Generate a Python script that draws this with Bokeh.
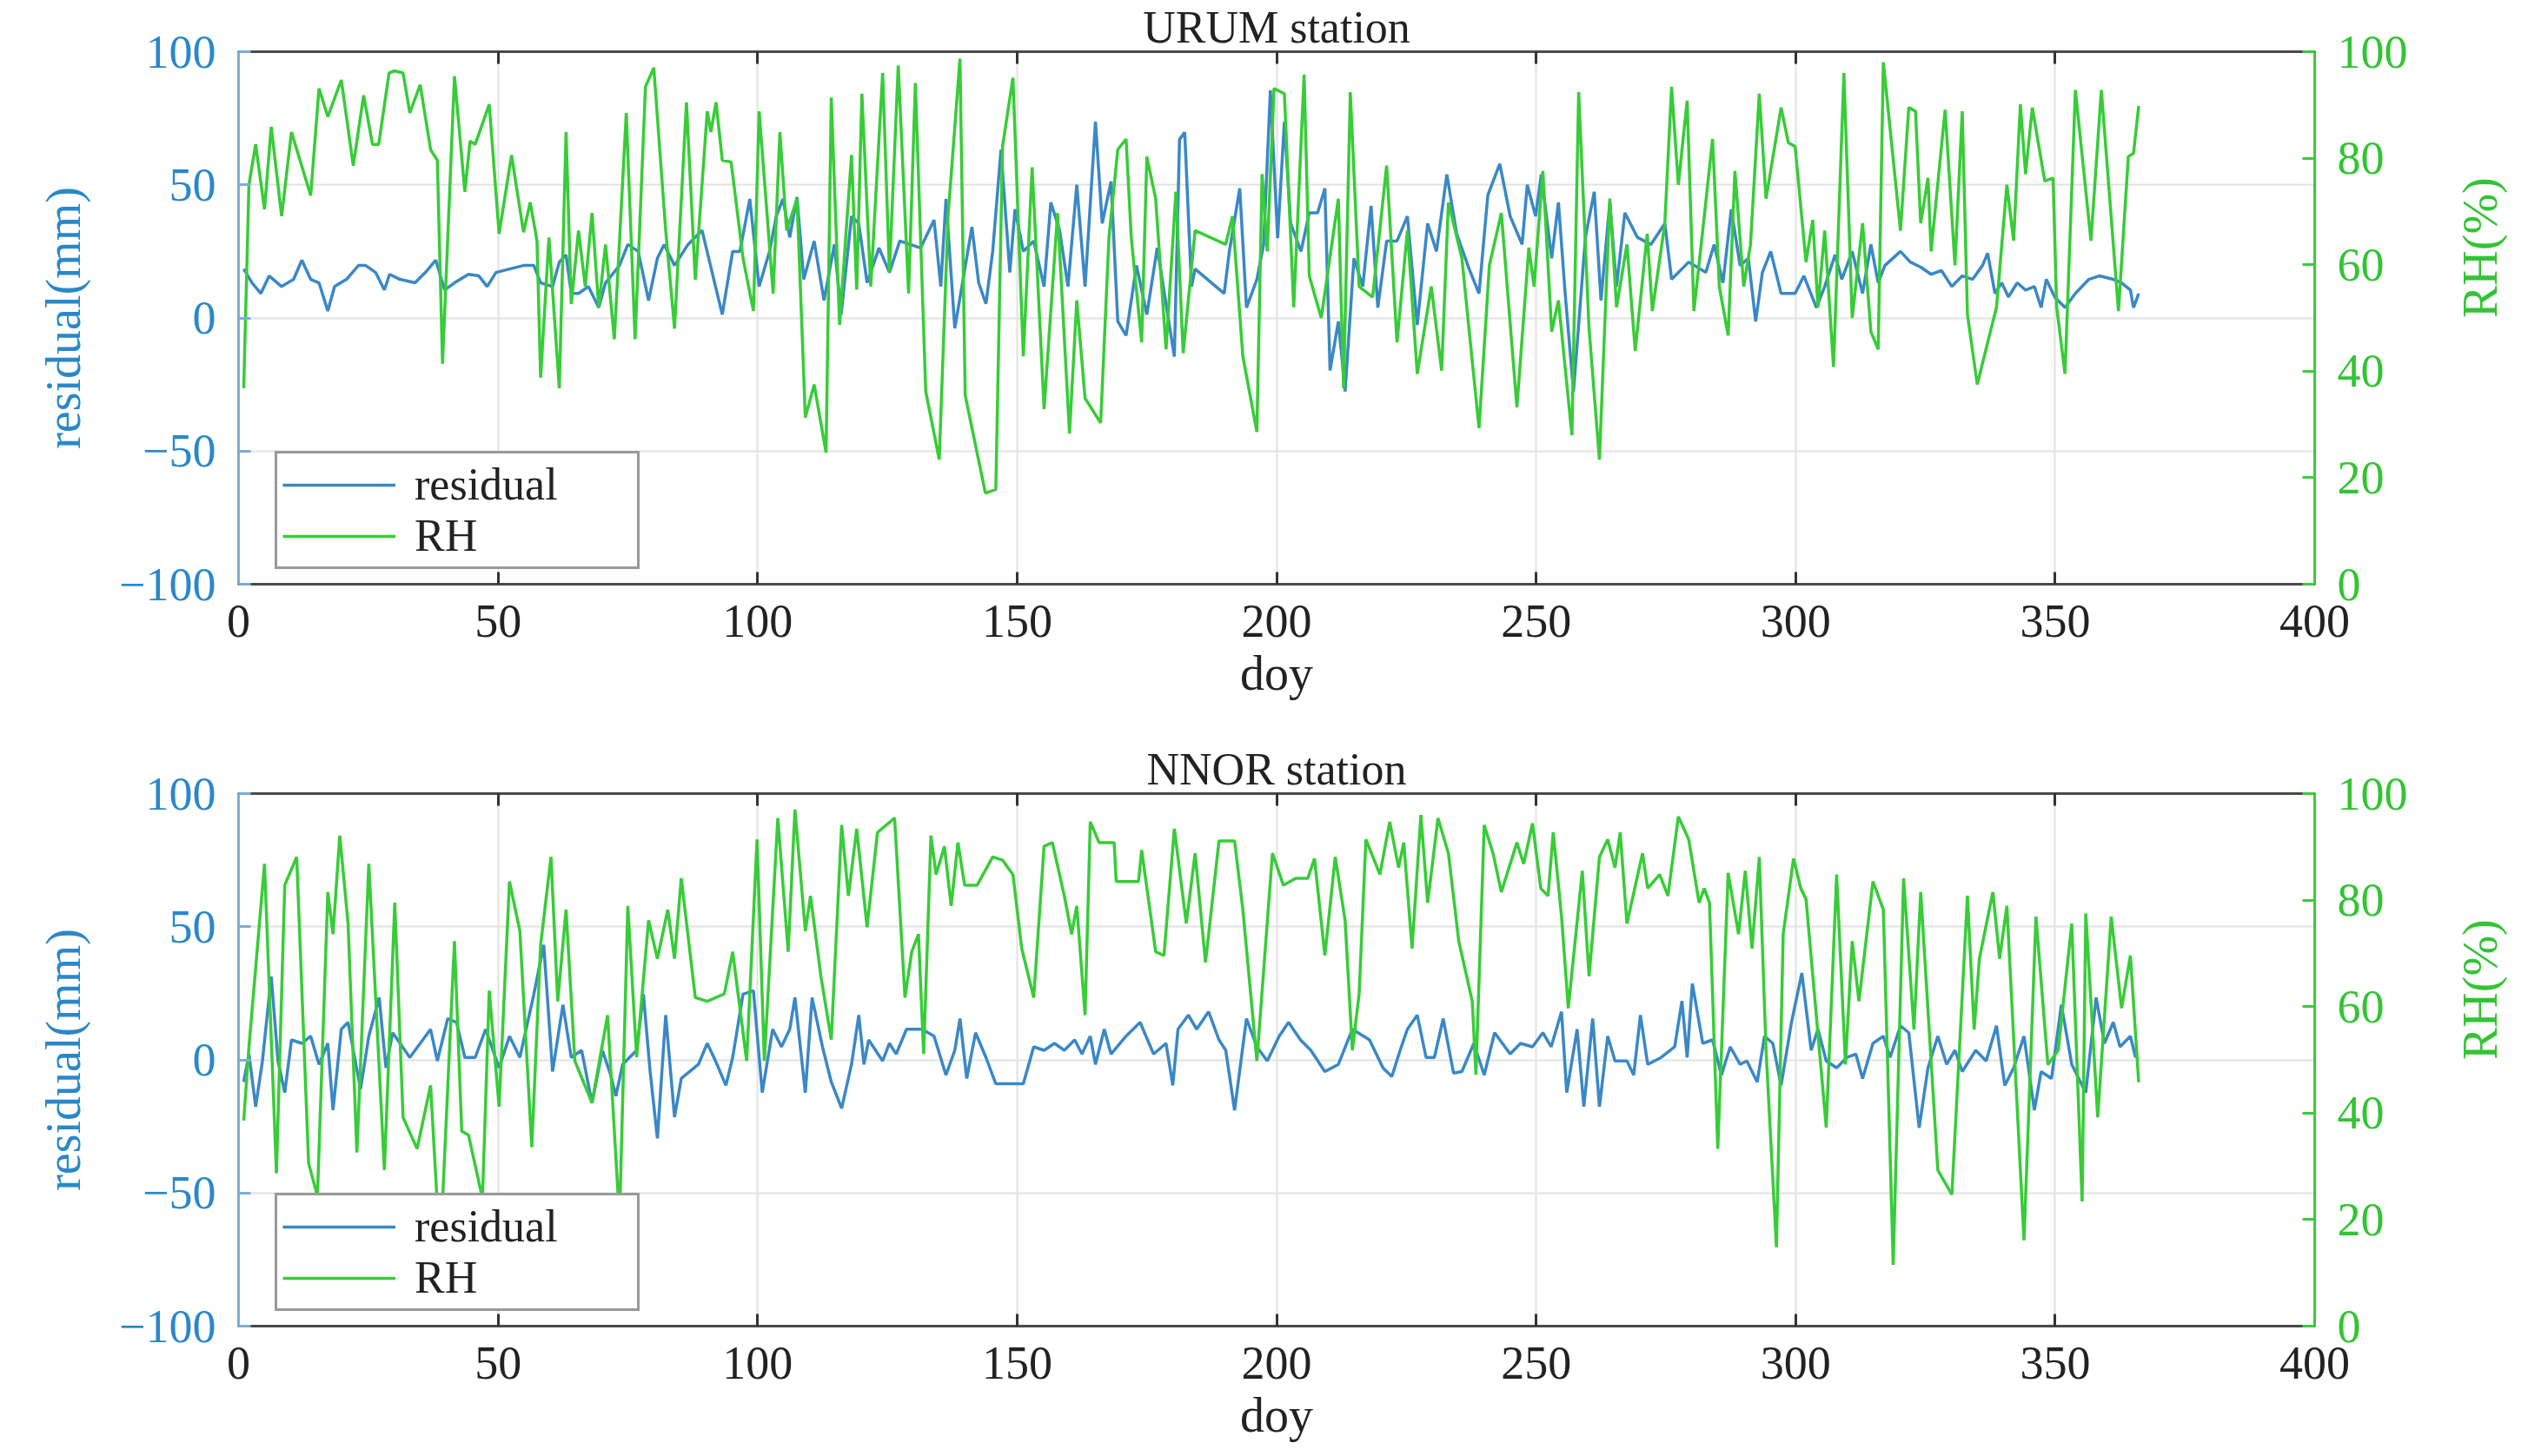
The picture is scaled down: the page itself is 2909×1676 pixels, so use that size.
import math
from bokeh.plotting import figure
from bokeh.models import Range1d, LinearAxis, Legend, LegendItem, FixedTicker
from bokeh.layouts import column
from bokeh.embed import file_html
from bokeh.resources import INLINE

# ---------------- data (doy, value) ----------------
X_TICKS = [0, 50, 100, 150, 200, 250, 300, 350, 400]
RES_TICKS = [-100, -50, 0, 50, 100]
RH_TICKS = [0, 20, 40, 60, 80, 100]

URUM_RESIDUAL = [(1,18.4),(2.6,13.2),(4.3,9.2),(5.9,15.8),(8.3,11.8),(10.6,14.5),(12.2,21.7),(13.9,14.5),(15.5,13.2),(17.2,2.6),(18.5,11.8),(20.8,14.5),(23.1,19.7),(24.5,19.7),(26.4,17.1),(28.1,10.5),(29.1,16.4),(31.1,14.5),(34,13.2),(36,17.1),(38,21.7),(39.7,10.5),(41.6,13.2),(44.3,16.4),(46.3,15.8),(47.9,11.8),(49.6,17.1),(52.2,18.4),(54.9,19.7),(56.9,19.7),(58.2,13.2),(60.5,11.8),(61.8,21),(63.1,23.7),(64.1,9.2),(65.5,9.2),(67.4,11.8),(69.4,3.9),(70.7,13.2),(73.4,19.7),(75,27.6),(77,25),(79,6.6),(80.7,22.4),(82,27.6),(84,19.7),(86.6,27.6),(89.3,32.9),(91.9,11.8),(93.2,1.3),(95.2,25),(96.6,25),(98.5,44.7),(100.3,11.8),(102.3,25),(103.6,38.2),(104.9,44.7),(106.2,30.3),(107.6,45.4),(108.9,14.5),(110.9,28.9),(112.8,6.6),(114.8,27.6),(116.1,1.3),(118.1,38.2),(119.5,35.5),(121.1,13.2),(123.4,26.3),(125.4,17.1),(127.4,28.9),(129.4,27.6),(131.4,26.3),(134,36.8),(135.3,11.8),(136.3,44.7),(138,-3.9),(141.3,34.2),(142.6,13.2),(144,5.3),(145.3,25),(146.9,63.2),(148.6,17.1),(149.6,40.8),(151.2,25),(153.2,28.9),(155.2,11.8),(156.5,43.4),(158.2,32.9),(159.8,11.8),(161.5,50),(163.1,11.8),(165.1,73.7),(166.4,35.5),(168.1,51.3),(169.4,-1.3),(171,-6.6),(173,19.7),(175,1.3),(177,26.3),(178.7,5.3),(180.3,-14.5),(181.3,67.1),(182.3,69.7),(183.6,11.8),(184.3,18.4),(189.9,9.2),(190.9,25),(192.9,48.7),(194.2,3.9),(196.2,14.5),(197.5,27.6),(198.8,85.5),(200.2,30),(201.5,73.7),(202.7,35.5),(204.7,25),(206.3,39.5),(207.9,39.5),(209.3,48.7),(210.3,-19.7),(211.9,-1.3),(213.2,-27.6),(214.9,22.4),(216.6,11.8),(218.2,42.1),(219.5,3.9),(221.2,28.9),(223.2,28.9),(225.2,38.2),(227.1,-2.6),(229.1,35.5),(230.8,25),(232.8,53.9),(234.7,31.6),(237.1,18.4),(239,9.2),(240.7,46.1),(243,57.9),(245,38.2),(247.3,27.6),(248.3,50),(249.9,38.2),(251,53.9),(253,22.4),(254.3,43.4),(255.6,9.2),(257.2,-27.6),(259.5,30.3),(261.2,47.4),(262.5,6.6),(264.2,43.4),(265.5,11.8),(267.1,39.5),(269.5,30.3),(272.1,27.6),(274.8,35.5),(276.1,14.5),(279.4,21),(282.7,17.1),(284.3,27.6),(286,13.2),(287.6,40.8),(289.3,19.7),(290.9,22.4),(292.3,-1.3),(293.6,17.1),(295.2,25),(297.2,9.2),(299.9,9.2),(301.6,15.8),(304,3.9),(305.6,11.8),(307.6,23.7),(308.9,14.5),(310.9,25),(312.9,9.2),(314.5,27.6),(315.9,13.2),(317.2,19.7),(320.2,25),(322.1,21),(324.1,19.1),(326.1,16.4),(328.1,17.8),(330.1,11.8),(332.1,15.8),(334.1,14.5),(336,19.7),(337,24.3),(338.4,9.2),(339.7,13.2),(341,7.9),(342.7,13.2),(344.3,10.5),(346,11.8),(347.3,3.9),(348.3,14.5),(349.9,7.9),(351.9,3.9),(353.9,9.2),(356.5,14.5),(358.5,15.8),(361.2,14.5),(362.8,13.2),(364.5,10.5),(365.1,3.9),(366.1,9.2)]

URUM_RH = [(1,36.8),(2,75),(3.3,82.6),(5,70.4),(6.3,85.9),(8.3,69.1),(10.2,84.9),(13.9,73),(15.5,93.1),(17.2,87.8),(19.8,94.7),(22.1,78.6),(24.1,91.8),(25.8,82.6),(27,82.6),(29,96),(30,96.4),(31.7,96),(33,88.5),(35,93.8),(37,81.6),(38.3,79.6),(39.3,41.4),(41.6,95.4),(43.6,73.7),(44.6,83.2),(45.6,82.6),(48.3,90.1),(50.2,65.8),(52.6,80.6),(54.9,66.1),(56.2,71.7),(57.5,64.5),(58.2,38.8),(59.8,65.1),(61.8,36.8),(63.1,84.9),(64.1,52.6),(65.5,66.4),(66.8,55.9),(68.1,69.7),(69.4,52),(70.7,63.8),(72.4,46),(74.7,88.5),(76.4,46),(78.4,93.4),(80,97),(82.3,66.4),(84,48),(86.3,90.5),(88,57.2),(90.3,88.8),(91,84.9),(92,90.5),(93.2,79.6),(94.9,79.3),(97.2,61.2),(99.2,51.3),(100.3,88.8),(103,54.6),(104.3,84.9),(105.6,66.4),(107.6,72.4),(109.2,31.3),(110.9,37.5),(113.2,24.7),(114.2,91.4),(115.8,48.7),(118.1,80.6),(119.1,55.3),(120.1,92.1),(121.8,55.9),(124.1,96),(125.4,58.6),(127.1,97.4),(129.1,54.6),(130.4,94.1),(132.4,36.2),(135,23.4),(136.7,69.1),(139,98.7),(140,35.5),(143.9,17.1),(145.9,17.8),(147.2,82.2),(149.2,95.1),(151.2,42.8),(152.9,78.3),(155.2,32.9),(157.8,69.7),(160.1,28.3),(161.5,53.3),(163.1,34.9),(166.1,30.3),(167.7,65.1),(169.4,81.6),(171,83.6),(172,65.1),(174,45.4),(175,80.3),(176.7,72.4),(178.7,44.1),(180.6,73.7),(182,43.4),(184.3,66.4),(190.2,63.8),(191.5,69.1),(193.5,42.8),(196.2,28.6),(197.2,77),(198.2,62.5),(199.5,93.1),(201.5,92.1),(203.3,52),(205.3,95.7),(206.3,57.9),(208.6,50),(211.9,72.4),(212.9,36.8),(214.2,92.4),(215.9,55.9),(218.5,53.9),(221.2,78.6),(223.2,45.4),(225.2,66.4),(227.1,39.5),(229.8,55.9),(231.8,40.1),(233.1,71.7),(235.7,61.2),(239,29.3),(241,59.9),(243.3,69.7),(246.3,33.2),(248.6,63.2),(249.6,55.9),(251.3,77.6),(253,47.4),(254.3,53.3),(256.9,28),(258.2,92.4),(260.2,48),(262.2,23.4),(264.2,72.4),(265.5,52),(267.5,63.8),(269.1,43.8),(271.4,65.8),(272.4,51.3),(274.8,67.8),(276.1,93.4),(277.4,75),(279.1,90.8),(280.4,51.3),(282.4,69.1),(284,83.6),(285.3,55.9),(287,46.7),(288.3,77.6),(290,55.9),(291.3,63.8),(293,92.1),(294.3,72.4),(297.2,89.5),(298.6,82.9),(299.9,82.2),(302,60.5),(303.3,68.4),(304.3,52),(305.6,66.4),(307.3,40.8),(309.3,96),(310.9,50),(312.9,67.8),(314.5,47.4),(315.9,44.1),(316.9,98),(320.2,66.4),(321.8,89.5),(323.1,88.8),(324.1,67.8),(325.5,76.3),(326.1,62.5),(328.8,89.1),(330.7,59.9),(332.1,88.8),(333.1,50.7),(335,37.5),(337,45.4),(338.7,52),(340.7,75),(342,64.5),(343.3,90.1),(344.3,77),(345.6,89.5),(348,75.7),(349.6,76.3),(350.3,52),(351.9,39.5),(353.9,92.8),(356.9,64.5),(358.9,92.8),(362.2,51.3),(364.1,80.3),(365.1,80.9),(366.1,89.8)]

NNOR_RESIDUAL = [(1,-8.3),(2,2.2),(3.3,-17.6),(4.6,-0.4),(6.3,31.3),(7.6,-0.4),(8.9,-12.3),(10.2,7.5),(12.2,6.2),(13.9,8.9),(15.5,-1.7),(17.2,6.2),(18.2,-18.9),(19.8,11.5),(21.1,14.1),(23.5,-11),(25.1,8.9),(27.1,23.4),(28.4,-3),(29.7,10.2),(33,0.9),(37,11.5),(38.3,-0.4),(40.3,15.5),(42,14.1),(43.6,0.9),(45.6,0.9),(47.6,11.5),(50.2,-3),(52.2,8.9),(54.2,0.9),(56.9,24.7),(58.8,43.2),(60.5,-4.4),(62.5,20.7),(64.1,0.9),(66.1,3.6),(68.1,-16.2),(70.1,3.6),(71.7,-5.7),(72.7,-13.6),(74,-1.7),(76.7,3.6),(78,24.7),(79.3,-4.4),(80.7,-29.5),(82.3,16.8),(84,-21.5),(85.3,-7),(88.6,-1.7),(90.3,6.2),(91.9,-0.4),(93.9,-9.6),(95.2,0.9),(97.2,24.7),(99.2,26),(100.9,-12.3),(102.9,11.5),(104.6,4.9),(106.2,11.5),(107.2,23.4),(109.2,-12.3),(110.5,23.4),(112.5,4.9),(114.2,-8.3),(116.2,-18.2),(118.1,-1.7),(119.5,16.8),(120.5,-1.7),(121.4,7.5),(124.1,-0.4),(125.4,6.2),(126.7,2.2),(128.7,11.5),(131.7,11.5),(134,8.9),(136.3,-5.7),(138,3.6),(139,15.5),(140.3,-7),(142,10.2),(144,0.9),(145.9,-9),(151.2,-9),(153.2,4.9),(155.2,3.6),(157.2,6.2),(159.1,3.6),(161.1,7.5),(162.5,2.2),(164.1,8.9),(165.1,-1.7),(166.8,11.5),(168.1,2.2),(171,8.9),(173.7,14.1),(176.3,2.2),(178.7,6.2),(180,-9.6),(181,11.5),(183,16.8),(184.6,11.5),(186.9,18.1),(188.9,7.5),(190.2,3.6),(191.9,-18.9),(194.2,15.5),(196.2,4.9),(198.2,-0.4),(200.5,8.9),(202.3,14.1),(204.6,7.5),(206.6,3.6),(209.3,-4.4),(211.9,-1.7),(214.6,11.5),(217.9,7.5),(220.5,-3),(222.2,-6.3),(223.8,3.6),(225.2,11.5),(227.1,16.8),(228.8,0.9),(230.4,0.9),(232.1,15.5),(234.1,-5),(235.7,-4.4),(238,6.2),(240,-5.7),(242,10.2),(245,2.2),(247,6.2),(249.3,4.9),(251.3,10.2),(252.9,4.9),(254.9,18.1),(255.9,-12.3),(257.9,11.5),(259.2,-17.6),(260.9,15.5),(262.2,-17.6),(263.8,8.9),(265.2,-0.4),(267.5,-0.4),(268.8,-5.7),(270.1,16.8),(271.5,-1.7),(274.1,0.9),(276.7,4.9),(278.1,22.1),(279.1,0.9),(280.1,28.7),(282.1,6.2),(284,7.5),(285.7,-5.7),(287.4,4.9),(289.3,-1.7),(290.6,-0.4),(292.6,-8.3),(294,8.9),(295.6,6.2),(297.2,-9.6),(299.2,14.1),(301.2,32.6),(303,3.6),(304.3,11.5),(305.9,-0.4),(307.9,-3),(309.9,0.9),(311.6,2.2),(312.9,-7),(314.9,6.2),(316.9,8.9),(318.2,0.9),(320.2,12.8),(321.8,10.2),(323.8,-25.5),(325.5,-3),(327.4,8.9),(329.1,-1.7),(330.7,3.6),(332.1,-4.4),(334.7,3.6),(336.7,-0.4),(338.7,12.8),(340.3,-9.6),(342,-3),(344,8.9),(346,-18.9),(347.3,-4.4),(349.3,-7),(351.2,20.7),(353.2,-1.7),(355.9,-12.3),(357.9,23.4),(359.5,6.2),(361.2,14.1),(362.5,4.9),(364.5,8.9),(365.5,0.9)]

NNOR_RH = [(1,38.6),(2,52.4),(5,86.8),(7.3,28.7),(8.9,82.8),(11.2,88.1),(13.5,30.6),(15.2,24.4),(17.2,81.5),(18.2,73.6),(19.5,92.1),(21.1,75.6),(22.8,32.6),(25.1,86.8),(28.1,29.3),(30.1,79.5),(31.7,39.2),(34.4,33.3),(37,45.2),(38.3,22.7),(39.3,23.4),(41.6,72.3),(43,36.6),(44.3,35.9),(47,24),(48.3,63),(50.2,41.2),(52.2,83.5),(54.2,74.2),(56.5,33.6),(58.2,71.6),(60.2,88.1),(61.5,61),(63.1,78.2),(64.8,49.8),(68.1,41.9),(71.1,58.4),(73.4,20),(75,78.9),(76.7,50.5),(79,76.2),(80.7,69),(82.7,78.2),(84,69),(85.3,84.1),(88,61.7),(90.3,61),(93.6,62.4),(95.2,70.3),(97.9,49.8),(99.9,91.4),(101.3,49.8),(103.9,95.4),(105.9,70.3),(107.2,97),(109.2,74.2),(110.2,80.8),(112.2,65.7),(114.2,53.8),(116.2,94.1),(117.5,80.8),(119.1,93.4),(121.1,74.9),(123.1,92.7),(126.4,95.4),(128.4,61.7),(129.7,70.3),(131,73.6),(132,51.1),(133.4,92.1),(134.4,84.8),(136,90.1),(137.3,78.9),(138.6,90.8),(139.9,82.8),(142.3,82.8),(145.3,88.1),(147.2,87.5),(149.2,84.8),(150.9,70.9),(153.2,61.7),(155.2,90.1),(156.8,90.8),(159.1,80.8),(160.5,73.6),(161.5,78.9),(163.1,58.4),(164.1,94.7),(165.8,90.8),(168.7,90.8),(169.1,83.5),(173.4,83.5),(174,89.4),(176.7,70.3),(178.3,69.6),(180.3,93.4),(182.6,75.6),(184.3,88.8),(186.3,68.3),(188.9,91.1),(191.9,91.1),(193.5,78.2),(196.2,49.8),(199.2,88.8),(201.3,82.8),(203.7,84.1),(206,84.1),(207.3,87.8),(209.3,69.6),(211.3,88.1),(213.2,76.2),(214.6,51.8),(215.9,62.4),(217.2,91.4),(219.9,84.8),(221.8,94.7),(223.5,86.1),(224.5,90.8),(226.1,70.9),(227.8,96),(229.1,79.5),(231.1,95.4),(233.1,88.8),(235.1,72.3),(237.7,61),(238.4,47.2),(240,94.1),(241.7,88.8),(243.3,81.5),(246.3,90.8),(247.6,86.8),(249.3,94.4),(250.9,82.2),(252.3,80.8),(253.3,92.7),(254.9,76.9),(256.2,59.7),(258.9,85.5),(260.2,65.7),(262.2,88.1),(263.8,91.4),(265.2,86.1),(266.2,92.7),(267.5,75.6),(270.5,88.8),(271.5,82.2),(273.8,84.8),(275.4,80.8),(277.4,95.7),(279.4,91.4),(281.4,79.5),(282.4,82.2),(283.4,79.5),(285,33.3),(287,85.1),(289,73.6),(290.3,85.5),(291.6,70.9),(293,88.1),(294.3,51.8),(296.3,14.8),(297.6,73.6),(299.6,87.8),(301,82.2),(302,80.2),(305.9,37.3),(307.9,84.8),(309.6,49.1),(310.9,72.3),(312.2,61),(314.9,83.5),(316.9,78.2),(318.8,11.5),(320.8,84.1),(322.8,55.7),(324.1,81.5),(327.4,29.3),(330.1,24.7),(333.1,80.8),(334.4,55.7),(335.4,69),(338,81.5),(339.3,69),(340.7,78.9),(344,16.1),(346.3,76.9),(348.6,49.1),(350.6,51.8),(353.2,75.6),(355.2,23.4),(355.9,77.5),(358.2,39.2),(360.8,76.9),(362.8,59.7),(364.5,69.6),(366.1,45.8)]

# ---------------- styling ----------------
FONT = "Liberation Serif"
BLUE_LINE = "#3a88c6"
BLUE_TXT = "#2a88c8"
BLUE_AXIS = "#7aaed6"
GREEN_LINE = "#38cc38"
GREEN_TXT = "#33c433"
DARK = "#4a4a4a"
TICK_FS = "54px"
LABEL_FS = "56px"


def panel(title, residual, rh, top_border, bottom_border):
    p = figure(frame_width=2389, frame_height=613,
               x_range=Range1d(0, 400), y_range=Range1d(-100, 100),
               output_backend="svg", toolbar_location=None,
               min_border_left=274, min_border_right=230,
               min_border_top=top_border, min_border_bottom=bottom_border,
               background_fill_color="white", border_fill_color="white")
    p.extra_y_ranges = {"rh": Range1d(0, 100)}

    p.title.text = title
    p.title.align = "center"
    p.title.text_font = FONT
    p.title.text_font_size = "52px"
    p.title.text_font_style = "normal"
    p.title.text_color = "#222222"
    p.title.standoff = 0

    p.outline_line_color = DARK
    p.outline_line_width = 3

    # grid
    p.xgrid.ticker = FixedTicker(ticks=X_TICKS)
    p.ygrid.ticker = FixedTicker(ticks=RES_TICKS)
    for g in (p.xgrid, p.ygrid):
        g.grid_line_color = "#e2e2e2"
        g.grid_line_width = 2

    # bottom x axis
    xa = p.xaxis[0]
    xa.ticker = FixedTicker(ticks=X_TICKS)
    xa.axis_label = "doy"
    xa.axis_label_text_font = FONT
    xa.axis_label_text_font_size = LABEL_FS
    xa.axis_label_text_font_style = "normal"
    xa.axis_label_text_color = "#222222"
    xa.axis_label_standoff = 8
    xa.major_label_text_font = FONT
    xa.major_label_text_font_size = TICK_FS
    xa.major_label_text_color = "#222222"
    xa.major_label_standoff = 24
    xa.axis_line_color = DARK
    xa.axis_line_width = 3
    xa.major_tick_in = 14
    xa.major_tick_out = 0
    xa.major_tick_line_color = "#333333"
    xa.major_tick_line_width = 3
    xa.minor_tick_line_color = None

    # top axis: tick marks only, its labels are not drawn
    ta = LinearAxis(ticker=FixedTicker(ticks=X_TICKS))
    ta.major_label_text_font_size = "1px"
    ta.major_label_text_color = None
    ta.major_label_standoff = 0
    ta.axis_line_color = DARK
    ta.axis_line_width = 3
    ta.major_tick_in = 14
    ta.major_tick_out = 0
    ta.major_tick_line_color = "#333333"
    ta.major_tick_line_width = 3
    ta.minor_tick_line_color = None
    p.add_layout(ta, "above")

    # left axis (residual)
    ya = p.yaxis[0]
    ya.ticker = FixedTicker(ticks=RES_TICKS)
    ya.axis_label = "residual(mm)"
    ya.axis_label_text_font = FONT
    ya.axis_label_text_font_size = LABEL_FS
    ya.axis_label_text_font_style = "normal"
    ya.axis_label_text_color = BLUE_TXT
    ya.axis_label_standoff = 30
    ya.major_label_text_font = FONT
    ya.major_label_text_font_size = TICK_FS
    ya.major_label_text_color = BLUE_TXT
    ya.major_label_standoff = 26
    ya.axis_line_color = BLUE_AXIS
    ya.axis_line_width = 3
    ya.major_tick_in = 14
    ya.major_tick_out = 0
    ya.major_tick_line_color = BLUE_AXIS
    ya.major_tick_line_width = 3
    ya.minor_tick_line_color = None

    # right axis (RH)
    ra = LinearAxis(y_range_name="rh", ticker=FixedTicker(ticks=RH_TICKS))
    ra.axis_label = "RH(%)"
    ra.axis_label_text_font = FONT
    ra.axis_label_text_font_size = LABEL_FS
    ra.axis_label_text_font_style = "normal"
    ra.axis_label_text_color = GREEN_TXT
    ra.axis_label_standoff = 80
    ra.major_label_text_font = FONT
    ra.major_label_text_font_size = TICK_FS
    ra.major_label_text_color = GREEN_TXT
    ra.major_label_standoff = 26
    ra.axis_line_color = GREEN_LINE
    ra.axis_line_width = 3
    ra.major_tick_in = 14
    ra.major_tick_out = 0
    ra.major_tick_line_color = GREEN_LINE
    ra.major_tick_line_width = 3
    ra.minor_tick_line_color = None
    try:
        ra.axis_label_orientation = math.pi / 2
    except Exception:
        pass
    p.add_layout(ra, "right")

    rx = [d for d, _ in residual]
    ry = [v for _, v in residual]
    hx = [d for d, _ in rh]
    hy = [v for _, v in rh]
    r1 = p.line(rx, ry, line_color=BLUE_LINE, line_width=3.5)
    r2 = p.line(hx, hy, y_range_name="rh", line_color=GREEN_LINE, line_width=3.5)

    leg = Legend(items=[LegendItem(label="residual", renderers=[r1]),
                        LegendItem(label="RH", renderers=[r2])],
                 location=(42, 17))
    leg.label_text_font = FONT
    leg.label_text_font_size = "52px"
    leg.label_text_color = "#222222"
    leg.border_line_color = "#333333"
    leg.border_line_width = 3
    leg.background_fill_color = "white"
    leg.background_fill_alpha = 1.0
    leg.glyph_width = 130
    leg.glyph_height = 40
    leg.label_height = 40
    leg.label_width = 250
    leg.label_standoff = 22
    leg.padding = 6
    leg.spacing = 0
    leg.margin = 0
    p.add_layout(leg)
    return p


p1 = panel("URUM station", URUM_RESIDUAL, URUM_RH, 51, 168)
p2 = panel("NNOR station", NNOR_RESIDUAL, NNOR_RH, 73, 142)
layout = column(p1, p2, spacing=0)

open("out.html", "w").write(file_html(layout, INLINE))
